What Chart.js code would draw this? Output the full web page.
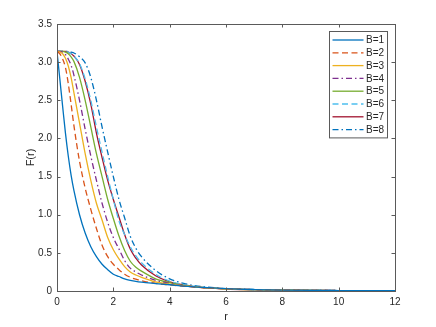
<!DOCTYPE html>
<html>
<head>
<meta charset="utf-8">
<script src="https://cdn.jsdelivr.net/npm/chart.js@4/dist/chart.umd.min.js"></script>
<style>
  html, body { margin: 0; padding: 0; background: #fff; }
  #wrap { width: 436px; height: 327px; }
</style>
</head>
<body>
<div id="wrap"><canvas id="chart"></canvas></div>
<script>
// sample radii (shared by every curve)
const radii = [0, 0.1, 0.2, 0.3, 0.4, 0.5, 0.6, 0.8, 1.0, 1.2, 1.4, 1.6, 1.8, 2.0,
  2.2, 2.4, 2.6, 2.8, 3.0, 3.5, 4, 4.5, 5, 6, 7, 8, 10, 12];

// F(r), one array per B
const fB1 = [3.14, 2.78, 2.42, 2.07, 1.77, 1.52, 1.32, 1.0, 0.76, 0.58, 0.45, 0.35, 0.28, 0.22,
  0.19, 0.16, 0.14, 0.125, 0.115, 0.098, 0.082, 0.064, 0.05, 0.03, 0.019, 0.012, 0.006, 0.003];
const fB2 = [3.14, 3.11, 3.04, 2.93, 2.72, 2.45, 2.17, 1.7, 1.35, 1.07, 0.82, 0.6, 0.45, 0.35,
  0.28, 0.22, 0.18, 0.155, 0.135, 0.1, 0.08, 0.062, 0.048, 0.029, 0.018, 0.012, 0.006, 0.003];
const fB3 = [3.14, 3.135, 3.11, 3.05, 2.95, 2.8, 2.6, 2.2, 1.8, 1.45, 1.15, 0.93, 0.7, 0.54,
  0.42, 0.32, 0.25, 0.21, 0.18, 0.12, 0.09, 0.066, 0.05, 0.029, 0.018, 0.012, 0.006, 0.003];
const fB4 = [3.14, 3.14, 3.13, 3.1, 3.04, 2.96, 2.83, 2.5, 2.12, 1.77, 1.45, 1.15, 0.9, 0.7,
  0.55, 0.4, 0.3, 0.25, 0.21, 0.14, 0.1, 0.07, 0.05, 0.029, 0.018, 0.012, 0.006, 0.003];
const fB5 = [3.14, 3.14, 3.14, 3.13, 3.11, 3.07, 3.01, 2.8, 2.5, 2.15, 1.8, 1.5, 1.2, 0.95,
  0.72, 0.53, 0.39, 0.31, 0.26, 0.16, 0.11, 0.075, 0.052, 0.029, 0.018, 0.012, 0.006, 0.003];
const fB6 = [3.14, 3.14, 3.14, 3.14, 3.13, 3.11, 3.08, 2.98, 2.78, 2.5, 2.15, 1.82, 1.5, 1.2,
  0.92, 0.74, 0.58, 0.46, 0.37, 0.22, 0.13, 0.085, 0.055, 0.028, 0.018, 0.012, 0.006, 0.003];
const fB7 = [3.14, 3.14, 3.14, 3.14, 3.13, 3.11, 3.08, 2.97, 2.75, 2.45, 2.07, 1.75, 1.45, 1.2,
  0.97, 0.74, 0.55, 0.43, 0.34, 0.2, 0.12, 0.08, 0.05, 0.026, 0.017, 0.011, 0.005, 0.003];
const fB8 = [3.14, 3.14, 3.14, 3.14, 3.14, 3.13, 3.12, 3.07, 2.99, 2.8, 2.5, 2.15, 1.82, 1.5,
  1.2, 0.96, 0.72, 0.56, 0.45, 0.27, 0.16, 0.1, 0.065, 0.032, 0.02, 0.013, 0.006, 0.003];

const seriesNames = ["B=1", "B=2", "B=3", "B=4", "B=5", "B=6", "B=7", "B=8"];
const seriesValues = [fB1, fB2, fB3, fB4, fB5, fB6, fB7, fB8];

const xTicks = [0, 2, 4, 6, 8, 10, 12];
const yTicks = [0, 0.5, 1, 1.5, 2, 2.5, 3, 3.5];

// matlab default colours + line styles
const colors = ["#0072BD", "#D95319", "#EDB120", "#7E2F8E", "#77AC30", "#4DBEEE", "#A2142F", "#0072BD"];
const DASH = [6, 3.5];
const DASHDOT = [6, 3, 1.5, 3];
const dashes = [[], DASH, [], DASHDOT, [], DASH, [], DASHDOT];

const axisColor = "#5a5a5a";
const textColor = "#262626";
const fontFamily = "'Liberation Sans', Arial, Helvetica, sans-serif";

const datasets = seriesNames.map((name, i) => ({
  label: name,
  data: radii.map((r, k) => ({ x: r, y: seriesValues[i][k] })),
  borderColor: colors[i],
  borderDash: dashes[i],
  borderWidth: 1.3,
  pointRadius: 0,
  fill: false,
  cubicInterpolationMode: "monotone"
}));

// box around the axes with inward ticks on all four sides
const frame = {
  id: "frame",
  afterDatasetsDraw(chart) {
    const { ctx, chartArea: a, scales: { x, y } } = chart;
    ctx.save();
    ctx.strokeStyle = axisColor;
    ctx.lineWidth = 1;
    ctx.setLineDash([]);
    ctx.strokeRect(Math.round(a.left) + 0.5, Math.round(a.top) + 0.5,
      Math.round(a.right - a.left), Math.round(a.bottom - a.top));
    ctx.beginPath();
    xTicks.forEach(v => {
      const px = Math.round(x.getPixelForValue(v)) + 0.5;
      ctx.moveTo(px, a.bottom); ctx.lineTo(px, a.bottom - 3.5);
      ctx.moveTo(px, a.top); ctx.lineTo(px, a.top + 3.5);
    });
    yTicks.forEach(v => {
      const py = Math.round(y.getPixelForValue(v)) + 0.5;
      ctx.moveTo(a.left, py); ctx.lineTo(a.left + 3.5, py);
      ctx.moveTo(a.right, py); ctx.lineTo(a.right - 3.5, py);
    });
    ctx.stroke();
    ctx.restore();
  }
};

// legend box in the top-right corner of the axes
const boxLegend = {
  id: "boxLegend",
  afterDraw(chart) {
    const { ctx, chartArea: a } = chart;
    const w = 58, rowH = 12.8;
    const h = rowH * seriesNames.length + 4;
    const left = Math.round(a.right - 8 - w) + 0.5;
    const top = Math.round(a.top + 7) + 0.5;
    ctx.save();
    ctx.fillStyle = "#fff";
    ctx.fillRect(left, top, w, h);
    ctx.strokeStyle = axisColor;
    ctx.lineWidth = 1;
    ctx.strokeRect(left, top, w, h);
    ctx.font = "10px " + fontFamily;
    ctx.textBaseline = "middle";
    seriesNames.forEach((name, i) => {
      const yy = top + 8.5 + i * rowH;
      ctx.beginPath();
      ctx.strokeStyle = colors[i];
      ctx.lineWidth = 1.3;
      ctx.setLineDash(dashes[i]);
      ctx.moveTo(left + 3, yy);
      ctx.lineTo(left + 34, yy);
      ctx.stroke();
      ctx.setLineDash([]);
      ctx.fillStyle = textColor;
      ctx.fillText(name, left + 36.5, yy + 0.5);
    });
    ctx.restore();
  }
};

new Chart(document.getElementById("chart"), {
  type: "line",
  data: { datasets },
  options: {
    responsive: true,
    maintainAspectRatio: false,
    animation: false,
    layout: { padding: { left: 0, top: 24, right: 41, bottom: 0 } },
    plugins: { legend: { display: false }, tooltip: { enabled: false } },
    scales: {
      x: {
        type: "linear",
        min: 0, max: 12,
        afterFit: s => { s.height = 36; },
        afterBuildTicks: s => { s.ticks = xTicks.map(v => ({ value: v })); },
        grid: { display: false, drawTicks: false },
        border: { display: false },
        ticks: { color: textColor, padding: 5, maxRotation: 0, font: { family: fontFamily, size: 10 } },
        title: { display: true, text: "r", color: textColor, padding: { top: 3, bottom: 3 },
          font: { family: fontFamily, size: 11 } }
      },
      y: {
        min: 0, max: 3.5,
        afterFit: s => { s.width = 57; },
        afterBuildTicks: s => { s.ticks = yTicks.map(v => ({ value: v })); },
        grid: { display: false, drawTicks: false },
        border: { display: false },
        ticks: { color: textColor, padding: 5, font: { family: fontFamily, size: 10 } },
        title: { display: true, text: "F(r)", color: textColor, padding: { top: 24, bottom: 24 },
          font: { family: fontFamily, size: 11 } }
      }
    }
  },
  plugins: [frame, boxLegend]
});
</script>
</body>
</html>
